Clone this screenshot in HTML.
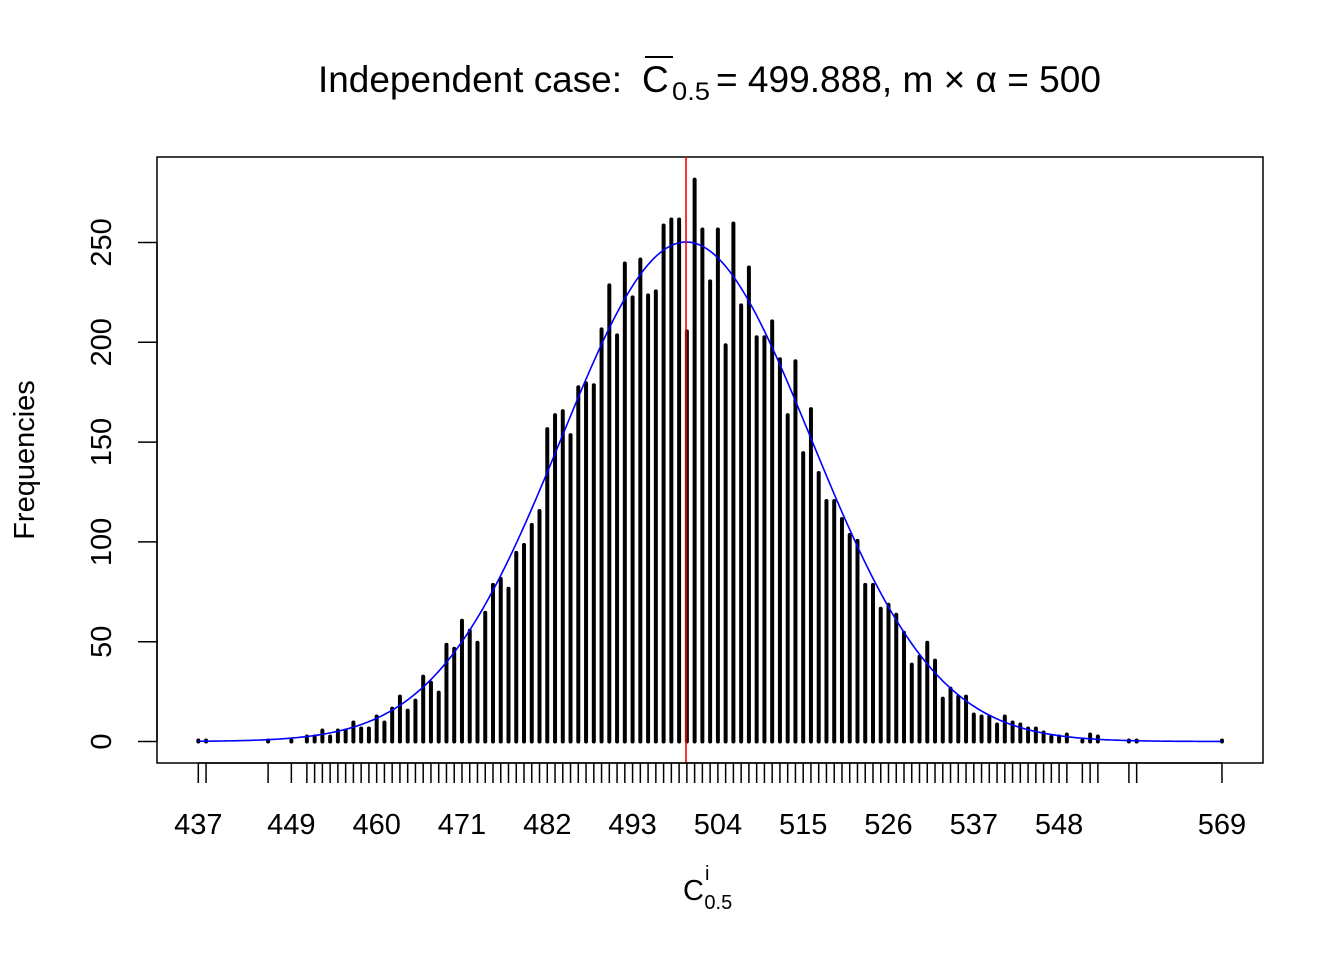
<!DOCTYPE html>
<html><head><meta charset="utf-8"><style>
html,body{margin:0;padding:0;background:#fff;}
svg{display:block;font-family:"Liberation Sans",Arial,sans-serif;}
</style></head><body>
<svg id="chart" width="1344" height="960" viewBox="0 0 1344 960" xmlns="http://www.w3.org/2000/svg">
<rect width="1344" height="960" fill="#fff"/>
<g font-size="37" fill="#000">
<text x="318" y="92" textLength="304" lengthAdjust="spacingAndGlyphs">Independent case:</text>
<text x="642" y="92">C</text>
<text x="672" y="100" font-size="25" textLength="38" lengthAdjust="spacingAndGlyphs">0.5</text>
<text x="716" y="92" textLength="385" lengthAdjust="spacingAndGlyphs">= 499.888, m × α = 500</text>
</g>
<line x1="645" y1="57" x2="673" y2="57" stroke="#000" stroke-width="2"/>
<rect x="157" y="157" width="1106" height="606" fill="none" stroke="#000" stroke-width="1.5"/>
<g id="bars"></g>
<path id="curve" fill="none" stroke="#0000ff" stroke-width="1.6"/>
<line id="meanline" stroke="#ff0000" stroke-width="1.6"/>
<g id="xaxis"></g>
<g id="yaxis"></g>
<text transform="translate(34,460) rotate(-90)" text-anchor="middle" font-size="29">Frequencies</text>
<text x="683" y="900" font-size="29">C<tspan font-size="20" dx="1" dy="-20">i</tspan><tspan font-size="20" dx="-5" dy="29">0.5</tspan></text>
</svg>
<script>
const categories=[437,438,446,449,451,452,453,454,455,456,457,458,459,460,461,462,463,464,465,466,467,468,469,470,471,472,473,474,475,476,477,478,479,480,481,482,483,484,485,486,487,488,489,490,491,492,493,494,495,496,497,498,499,500,501,502,503,504,505,506,507,508,509,510,511,512,513,514,515,516,517,518,519,520,521,522,523,524,525,526,527,528,529,530,531,532,533,534,535,536,537,538,539,540,541,542,543,544,545,546,547,548,549,551,552,553,557,558,569];
const counts=[1,1,1,1,3,3,6,3,6,6,10,7,7,13,10,17,23,16,21,33,30,25,49,47,61,56,50,65,79,82,77,95,99,109,116,157,164,166,154,178,180,179,207,229,204,240,223,242,224,226,259,262,262,206,282,257,231,257,199,260,219,238,203,203,211,192,164,191,145,167,135,121,121,112,104,101,79,79,67,69,64,55,39,43,50,41,22,27,23,23,14,13,13,9,13,10,9,7,7,5,3,3,4,1,4,3,1,1,1];
const xTickLabels=[437,449,460,471,482,493,504,515,526,537,548,569];
const yTickLabels=[0,50,100,150,200,250];
const meanValue=499.888;

const NS="http://www.w3.org/2000/svg";
const xScale=v=>198.3+(v-437)*7.755;
const yScale=v=>741.5-v*1.996;
function mk(tag,parent){const e=document.createElementNS(NS,tag);parent.appendChild(e);return e;}

const bars=document.getElementById('bars');
categories.forEach((c,i)=>{
  const l=mk('line',bars);
  
  
  l.setAttribute('x1',xScale(c));l.setAttribute('x2',xScale(c));
  l.setAttribute('y1',yScale(0));l.setAttribute('y2',yScale(counts[i])+1);
  l.setAttribute('stroke','#000');l.setAttribute('stroke-width','4');l.setAttribute('stroke-linecap','round');
});

// smooth density (normal fit on data) scaled to counts
let N=0,s=0,s2=0;categories.forEach((c,i)=>{N+=counts[i];s+=c*counts[i];s2+=c*c*counts[i];});
const mu=s/N,sd=Math.sqrt((s2-N*mu*mu)/(N-1));
const bw=1.2;
const sdK=Math.sqrt(sd*sd+bw*bw);
let d='';const lo=categories[0],hi=categories[categories.length-1];
for(let k=0;k<=400;k++){
  const x=lo+(hi-lo)*k/400;
  const z=(x-mu)/sdK;
  const f=N*Math.exp(-0.5*z*z)/(sdK*Math.sqrt(2*Math.PI));
  d+=(k?'L':'M')+xScale(x).toFixed(2)+','+yScale(f).toFixed(2);
}
document.getElementById('curve').setAttribute('d',d);

const ml=document.getElementById('meanline');
ml.setAttribute('x1',xScale(meanValue));ml.setAttribute('x2',xScale(meanValue));
ml.setAttribute('y1',157);ml.setAttribute('y2',763);

const xa=document.getElementById('xaxis');
const ax=mk('line',xa);


ax.setAttribute('x1',xScale(lo));ax.setAttribute('x2',xScale(hi));ax.setAttribute('y1',763);ax.setAttribute('y2',763);ax.setAttribute('stroke','#000');ax.setAttribute('stroke-width','1.5');
categories.forEach(c=>{
  const t=mk('line',xa);
  
  
  t.setAttribute('x1',xScale(c));t.setAttribute('x2',xScale(c));t.setAttribute('y1',763);t.setAttribute('y2',783);t.setAttribute('stroke','#000');t.setAttribute('stroke-width','1.5');
});
xTickLabels.forEach(v=>{
  const t=mk('text',xa);
  
  
  t.setAttribute('x',xScale(v));t.setAttribute('y',834);t.setAttribute('text-anchor','middle');t.setAttribute('font-size','29');
  t.textContent=v;
});
const ya=document.getElementById('yaxis');
yTickLabels.forEach(v=>{
  const t=mk('line',ya);
  
  
  t.setAttribute('x1',138);t.setAttribute('x2',157);t.setAttribute('y1',yScale(v));t.setAttribute('y2',yScale(v));t.setAttribute('stroke','#000');t.setAttribute('stroke-width','1.5');
  const l=mk('text',ya);
  
  
  l.setAttribute('transform','translate(111,'+yScale(v)+') rotate(-90)');l.setAttribute('text-anchor','middle');l.setAttribute('font-size','29');
  l.textContent=v;
});
const yl=mk('line',ya);


yl.setAttribute('x1',157);yl.setAttribute('x2',157);yl.setAttribute('y1',yScale(0));yl.setAttribute('y2',yScale(250));yl.setAttribute('stroke','#000');yl.setAttribute('stroke-width','1.5');
</script>
</body></html>
